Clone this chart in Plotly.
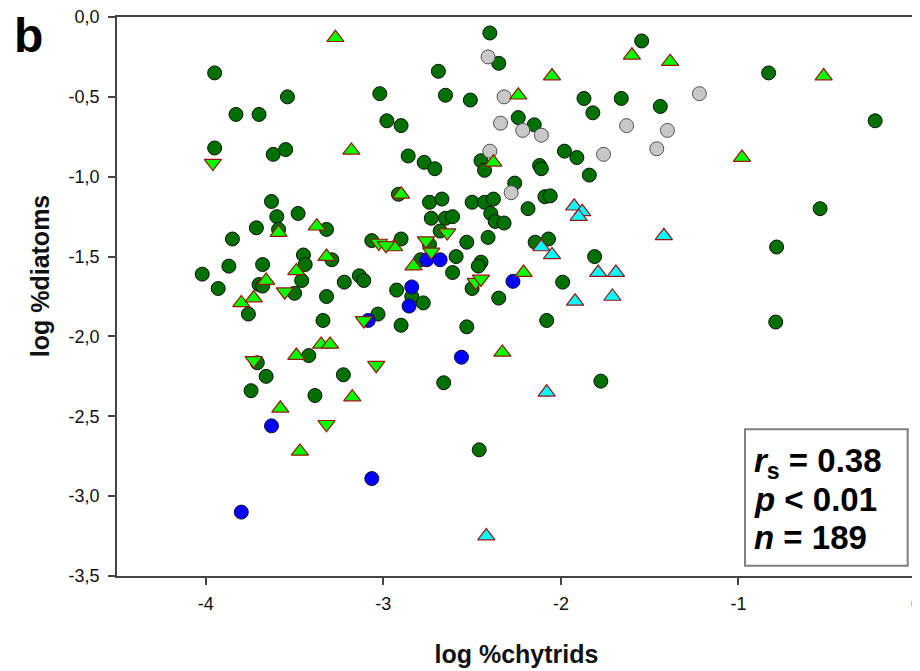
import plotly.graph_objects as go

# ---- data (log %chytrids, log %diatoms) ----
green_x = [-3.95, -3.54, -3.83, -3.70, -3.95, -3.62, -3.55, -3.63, -3.60, -3.48,
           -3.715, -3.59, -3.85, -3.45, -3.44, -3.87, -3.68, -4.02, -3.46, -3.93,
           -3.70, -3.68, -3.50, -3.76, -3.71, -3.66, -3.745, -3.42, -3.385, -3.32,
           -3.29, -3.32, -3.22, -3.135, -3.11, -3.34, -3.03, -3.225, -3.065, -2.90,
           -3.02, -2.98, -2.90, -2.86, -2.77, -2.71, -2.69, -2.65, -2.51, -2.40,
           -2.35, -2.915, -2.74, -2.67, -2.50, -2.43, -2.38, -2.395, -2.37, -2.32,
           -2.73, -2.65, -2.61, -2.68, -2.74, -2.79, -2.59, -2.53, -2.41, -2.45,
           -2.465, -2.61, -2.925, -2.84, -2.775, -2.50, -2.35, -2.90, -2.53, -2.66,
           -2.46, -2.45, -2.43, -2.26, -2.24, -2.15, -1.98, -1.91, -2.12, -2.11,
           -2.09, -2.06, -2.185, -1.84, -1.87, -1.66, -1.44, -1.82, -1.545, -2.145,
           -2.07, -1.81, -1.99, -2.08, -1.775, -0.83, -0.23, -0.54, -0.785, -0.79]
green_y = [-0.35, -0.50, -0.61, -0.61, -0.82, -0.86, -0.83, -1.155, -1.25, -1.23,
           -1.32, -1.33, -1.39, -1.49, -1.55, -1.56, -1.55, -1.61, -1.65, -1.70,
           -1.675, -1.685, -1.73, -1.86, -2.165, -2.25, -2.34, -2.12, -2.37, -1.33,
           -1.52, -1.75, -1.66, -1.62, -1.65, -1.90, -1.86, -2.24, -1.40, -1.39,
           -0.48, -0.65, -0.68, -0.87, -0.91, -0.95, -0.34, -0.49, -0.52, -0.10,
           -0.29, -1.11, -1.16, -1.14, -1.16, -1.16, -1.14, -1.23, -1.28, -1.29,
           -1.26, -1.26, -1.25, -1.34, -1.425, -1.52, -1.50, -1.41, -1.38, -1.535,
           -1.56, -1.60, -1.71, -1.75, -1.79, -1.70, -1.76, -1.93, -1.94, -2.29,
           -2.71, -0.90, -0.96, -1.04, -0.63, -0.675, -0.84, -0.88, -0.93, -0.95,
           -1.125, -1.12, -1.20, -0.99, -0.51, -0.51, -0.56, -0.60, -0.15, -1.41,
           -1.39, -1.50, -1.66, -1.90, -2.28, -0.35, -0.65, -1.20, -1.44, -1.91]

lime_up_x = [-3.27, -3.18, -3.59, -3.375, -3.66, -3.49, -3.80, -3.73, -3.49, -3.58,
             -3.47, -3.32, -3.35, -3.30, -3.175, -2.90, -2.94, -2.83, -2.38, -2.24,
             -2.05, -1.60, -1.385, -2.33, -2.21, -0.52, -0.98]
lime_up_y = [-0.13, -0.835, -1.35, -1.31, -1.65, -1.59, -1.79, -1.76, -2.12, -2.45,
             -2.72, -1.50, -2.05, -2.05, -2.38, -1.11, -1.44, -1.56, -0.91, -0.49,
             -0.37, -0.24, -0.28, -2.10, -1.60, -0.37, -0.88]

lime_down_x = [-3.96, -3.555, -3.73, -3.025, -2.985, -2.76, -2.73, -2.64, -2.48, -2.45,
               -3.11, -3.04, -3.32]
lime_down_y = [-0.915, -1.72, -2.15, -1.415, -1.43, -1.40, -1.47, -1.35, -1.66, -1.64,
               -1.90, -2.18, -2.55]

gray_x = [-2.41, -2.32, -2.34, -2.40, -2.28, -2.215, -2.11, -1.76, -1.63, -1.46, -1.40, -1.22]
gray_y = [-0.25, -0.50, -0.665, -0.84, -1.10, -0.71, -0.74, -0.86, -0.68, -0.825, -0.71, -0.48]

blue_x = [-2.755, -2.68, -2.84, -2.855, -3.085, -2.27, -2.56, -3.63, -3.065, -3.80]
blue_y = [-1.52, -1.52, -1.69, -1.81, -1.90, -1.655, -2.13, -2.56, -2.89, -3.10]

cyan_x = [-1.925, -1.88, -1.90, -1.42, -2.11, -2.05, -1.79, -1.69, -1.92, -1.71, -2.08, -2.42]
cyan_y = [-1.185, -1.22, -1.25, -1.37, -1.44, -1.49, -1.60, -1.60, -1.78, -1.75, -2.35, -3.25]

y_tick_vals = [0.0, -0.5, -1.0, -1.5, -2.0, -2.5, -3.0, -3.5]
y_tick_text = ["0,0", "-0,5", "-1,0", "-1,5", "-2,0", "-2,5", "-3,0", "-3,5"]
x_tick_vals = [-4, -3, -2, -1, 0]
x_tick_text = ["-4", "-3", "-2", "-1", "0"]

FONT = "Liberation Sans, Arial, sans-serif"
RED_EDGE = "#a01010"

fig = go.Figure()

def add(x, y, symbol, color, edge, size=14, width=1):
    fig.add_trace(go.Scatter(
        x=x, y=y, mode="markers", cliponaxis=False, showlegend=False,
        marker=dict(symbol=symbol, size=size, color=color,
                    line=dict(color=edge, width=width))))

add(green_x, green_y, "circle", "#007000", "#101010")
add(gray_x, gray_y, "circle", "#c8c8c8", "#505050")
add(blue_x, blue_y, "circle", "#0000ff", "#101030")
add(lime_up_x, lime_up_y, "triangle-up", "#00ff00", RED_EDGE, size=15, width=1.2)
add(lime_down_x, lime_down_y, "triangle-down", "#00ff00", RED_EDGE, size=15, width=1.2)
add(cyan_x, cyan_y, "triangle-up", "#00ffff", RED_EDGE, size=15, width=1.2)

axis_common = dict(showgrid=False, zeroline=False, showline=True, linecolor="#444444",
                   linewidth=1.5, mirror=True, ticks="outside", ticklen=7,
                   tickcolor="#444444", tickwidth=1.5, automargin=False,
                   ticklabeloverflow="allow",
                   tickfont=dict(family=FONT, size=18, color="#111111"))

# the page body adds an 8px offset, so the figure is 8px smaller than the window
fig.update_layout(
    width=912, height=663,
    margin=dict(l=109, r=4, t=9, b=95),
    paper_bgcolor="white", plot_bgcolor="white",
    xaxis=dict(range=[-4.5, 0], tickvals=x_tick_vals, ticktext=x_tick_text,
               ticklabelstandoff=4,
               title=dict(text="<b>log %chytrids</b>", standoff=32,
                          font=dict(family=FONT, size=25, color="#111111")),
               **axis_common),
    yaxis=dict(range=[-3.5, 0], tickvals=y_tick_vals, ticktext=y_tick_text,
               ticklabelstandoff=5,
               **axis_common),
)

# y-axis title (placed slightly above the axis centre, as in the original)
fig.add_annotation(text="<b>log %diatoms</b>", xref="paper", yref="paper",
                   x=-0.0964, y=0.538, textangle=-90, showarrow=False,
                   xanchor="center", yanchor="middle",
                   font=dict(family=FONT, size=25, color="#111111"))

# stats box
fig.add_shape(type="rect", xref="paper", yref="paper",
              x0=0.786, x1=0.9896, y0=0.0184, y1=0.2624,
              line=dict(color="#808080", width=2), fillcolor="white", layer="above")

stats = ["<b><i>r</i><sub>s</sub> = 0.38</b>", "<b><i>p</i> < 0.01</b>", "<b><i>n</i> = 189</b>"]
stats_y = [0.202, 0.136, 0.068]
for t, yy in zip(stats, stats_y):
    fig.add_annotation(text=t, xref="paper", yref="paper", x=0.795, y=yy,
                       xanchor="left", yanchor="middle", showarrow=False,
                       font=dict(family=FONT, size=33, color="#000000"))

# panel label
fig.add_annotation(text="<b>b</b>", xref="paper", yref="paper", x=-0.111, y=1.0161,
                   xanchor="center", yanchor="top", showarrow=False, borderpad=0,
                   font=dict(family=FONT, size=48, color="#000000"))

fig.write_html("out.html")
